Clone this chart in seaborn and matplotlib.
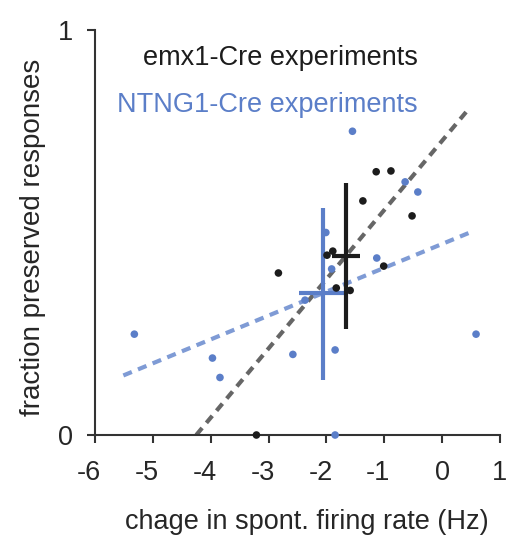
import numpy as np
import pandas as pd
import matplotlib
matplotlib.use("Agg")
import matplotlib.pyplot as plt
import matplotlib.transforms as mtransforms
import seaborn as sns

# emx1-Cre experiments (black)
emx_x = [-3.21, -2.83, -1.99, -1.89, -1.83, -1.59, -1.37, -1.14, -0.885, -1.01, -0.52]
emx_y = [0.0, 0.40, 0.444, 0.454, 0.363, 0.357, 0.578, 0.650, 0.652, 0.417, 0.541]

# NTNG1-Cre experiments (blue)
ntng_x = [-1.55, -0.64, -0.42, -2.01, -1.13, -1.91, -2.37, -2.58, -1.85, -5.32, -3.97, -3.84, 0.586, -1.85]
ntng_y = [0.75, 0.625, 0.60, 0.50, 0.437, 0.41, 0.333, 0.199, 0.21, 0.249, 0.19, 0.142, 0.249, 0.0]

# mean +/- error crosses
emx_mean = (-1.66, 0.443)
emx_xerr = (-1.90, -1.42)
emx_yerr = (0.261, 0.621)
ntng_mean = (-2.06, 0.35)
ntng_xerr = (-2.47, -1.69)
ntng_yerr = (0.137, 0.561)

# fit lines (end points)
emx_fit_x = [-4.25, 0.47]
emx_fit_y = [0.0, 0.807]
ntng_fit_x = [-5.51, 0.48]
ntng_fit_y = [0.147, 0.50]

xticks = [-6, -5, -4, -3, -2, -1, 0, 1]
yticks = [0, 1]

BLACK = "#1c1c1c"
BLUE = "#5b7ec8"
BLUE_LIGHT = "#7f9bd5"
GRAY = "#666666"
FS = 19.5

sns.set_style("ticks")
plt.rcParams["font.family"] = ["Liberation Sans", "DejaVu Sans"]

fig = plt.figure(figsize=(5.26, 5.48), dpi=100)
ax = fig.add_axes([95 / 526, 1 - 435 / 548, 405 / 526, 405 / 548])

sns.lineplot(x=emx_fit_x, y=emx_fit_y, ax=ax, color=GRAY, lw=3,
             linestyle=(0, (2.2, 1.6)), zorder=1)
sns.lineplot(x=ntng_fit_x, y=ntng_fit_y, ax=ax, color=BLUE_LIGHT, lw=3,
             linestyle=(0, (2.2, 1.6)), zorder=1)

sns.scatterplot(x=emx_x, y=emx_y, ax=ax, color=BLACK, s=30, edgecolor="none", zorder=3, clip_on=False)
sns.scatterplot(x=ntng_x, y=ntng_y, ax=ax, color=BLUE, s=30, edgecolor="none", zorder=3, clip_on=False)

# error crosses
ax.plot([ntng_mean[0]] * 2, ntng_yerr, color=BLUE, lw=3, solid_capstyle="butt", zorder=2)
ax.plot(ntng_xerr, [ntng_mean[1]] * 2, color=BLUE, lw=3, solid_capstyle="butt", zorder=2)
ax.plot([emx_mean[0]] * 2, emx_yerr, color=BLACK, lw=3, solid_capstyle="butt", zorder=2)
ax.plot(emx_xerr, [emx_mean[1]] * 2, color=BLACK, lw=3, solid_capstyle="butt", zorder=2)

ax.set_xlim(-6, 1)
ax.set_ylim(0, 1)
ax.set_xticks(xticks)
ax.set_yticks(yticks)
ax.set_xticklabels([str(t) for t in xticks])
ax.set_yticklabels([str(t) for t in yticks])
sns.despine(ax=ax)
for sp in ["left", "bottom"]:
    ax.spines[sp].set_linewidth(1.5)
    ax.spines[sp].set_color("#333333")
ax.tick_params(direction="out", length=6, width=1.5, color="#333333",
               labelsize=FS)
ax.tick_params(axis="x", pad=12)
ax.tick_params(axis="y", pad=10)

# negative labels: digit sits over the tick, minus sign hangs to the left
shift = mtransforms.ScaledTranslation(-6 / 100, 0, fig.dpi_scale_trans)
for t, lab in zip(xticks, ax.get_xticklabels()):
    if t < 0:
        lab.set_transform(lab.get_transform() + shift)

ax.set_xlabel("chage in spont. firing rate (Hz)", fontsize=FS)
ax.set_ylabel("fraction preserved responses", fontsize=20)
ax.xaxis.set_label_coords((307 - 95) / 405, -(522 - 435) / 405)
ax.yaxis.set_label_coords(-(95 - 33) / 405, (435 - 237) / 405)
ax.xaxis.label.set_va("center")
ax.yaxis.label.set_va("center")

ax.text(0.1185, 0.931, "emx1-Cre experiments", transform=ax.transAxes,
        fontsize=FS, color=BLACK, va="center", ha="left")
ax.text(0.054, 0.815, "NTNG1-Cre experiments", transform=ax.transAxes,
        fontsize=FS, color=BLUE, va="center", ha="left")

fig.savefig("out.png", dpi=100)
